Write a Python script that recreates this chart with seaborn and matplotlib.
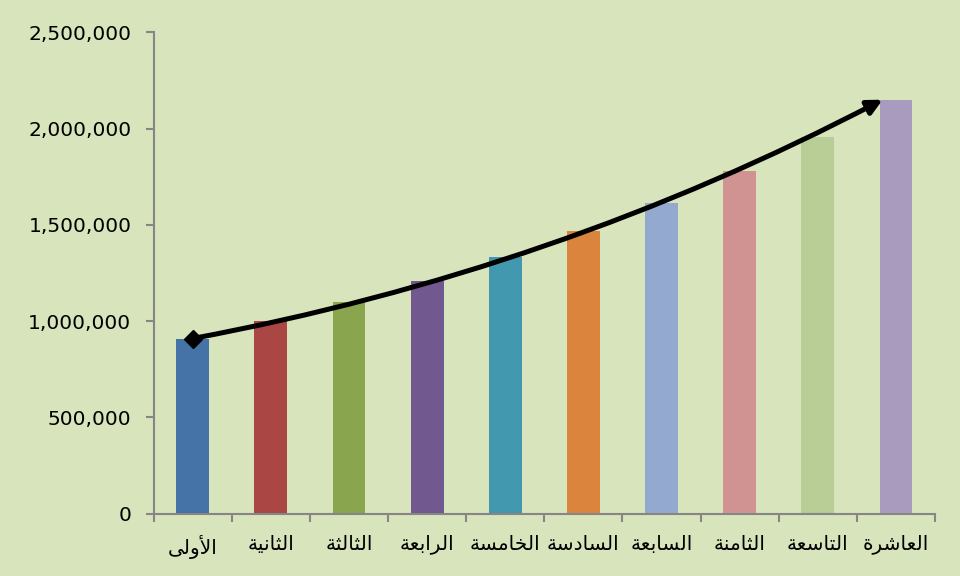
import matplotlib
matplotlib.use("Agg")
import matplotlib.pyplot as plt
import matplotlib.ticker as mticker
import seaborn as sns
import numpy as np

# ---- data ----
categories = ["الأولى", "الثانية", "الثالثة", "الرابعة", "الخامسة",
              "السادسة", "السابعة", "الثامنة", "التاسعة", "العاشرة"]
values = [910000, 1000000, 1100000, 1210000, 1335000,
          1470000, 1615000, 1778000, 1955000, 2150000]
bar_colors = ["#4572A7", "#AA4643", "#89A54E", "#71588F", "#4198AF",
              "#DB843D", "#93A9CF", "#D19392", "#B9CD96", "#A99BBD"]
y_ticks = [0, 500000, 1000000, 1500000, 2000000, 2500000]

# ---- minimal Arabic shaping (matplotlib has no complex text layout) ----
FORMS = {  # isolated, final, initial, medial
    "ا": ("\uFE8D", "\uFE8E", None, None),
    "أ": ("\uFE83", "\uFE84", None, None),
    "ب": ("\uFE8F", "\uFE90", "\uFE91", "\uFE92"),
    "ة": ("\uFE93", "\uFE94", None, None),
    "ت": ("\uFE95", "\uFE96", "\uFE97", "\uFE98"),
    "ث": ("\uFE99", "\uFE9A", "\uFE9B", "\uFE9C"),
    "خ": ("\uFEA5", "\uFEA6", "\uFEA7", "\uFEA8"),
    "د": ("\uFEA9", "\uFEAA", None, None),
    "ر": ("\uFEAD", "\uFEAE", None, None),
    "س": ("\uFEB1", "\uFEB2", "\uFEB3", "\uFEB4"),
    "ش": ("\uFEB5", "\uFEB6", "\uFEB7", "\uFEB8"),
    "ع": ("\uFEC9", "\uFECA", "\uFECB", "\uFECC"),
    "ل": ("\uFEDD", "\uFEDE", "\uFEDF", "\uFEE0"),
    "م": ("\uFEE1", "\uFEE2", "\uFEE3", "\uFEE4"),
    "ن": ("\uFEE5", "\uFEE6", "\uFEE7", "\uFEE8"),
    "و": ("\uFEED", "\uFEEE", None, None),
    "ى": ("\uFEEF", "\uFEF0", None, None),
    "ي": ("\uFEF1", "\uFEF2", "\uFEF3", "\uFEF4"),
}
LAM_ALEF = {"ا": ("\uFEFB", "\uFEFC"), "أ": ("\uFEF7", "\uFEF8")}


def dual(c):
    return c in FORMS and FORMS[c][2] is not None


def shape(word):
    units = []
    i = 0
    while i < len(word):
        c = word[i]
        if c == "ل" and i + 1 < len(word) and word[i + 1] in LAM_ALEF:
            units.append(("LA", word[i + 1]))
            i += 2
        else:
            units.append(("C", c))
            i += 1
    out = []
    for k, (kind, c) in enumerate(units):
        prev_joins = k > 0 and units[k - 1][0] == "C" and dual(units[k - 1][1])
        if kind == "LA":
            out.append(LAM_ALEF[c][1 if prev_joins else 0])
            continue
        nxt = k + 1 < len(units)
        next_joins = nxt and dual(c)
        iso, fin, ini, med = FORMS[c]
        if prev_joins and next_joins:
            out.append(med)
        elif prev_joins:
            out.append(fin)
        elif next_joins:
            out.append(ini)
        else:
            out.append(iso)
    return "".join(reversed(out))


bg = "#D8E4BC"
sns.set_theme(style="ticks", rc={
    "figure.facecolor": bg,
    "axes.facecolor": bg,
    "axes.edgecolor": "#868686",
    "xtick.color": "#868686",
    "ytick.color": "#868686",
})
plt.rcParams["font.family"] = ["DejaVu Sans"]

fig = plt.figure(figsize=(9.6, 5.76), dpi=100)
ax = fig.add_axes([0.160, 0.108, 0.814, 0.836])

sns.barplot(x=categories, y=values, hue=categories, palette=bar_colors,
            legend=False, width=0.42, ax=ax, saturation=1, order=categories,
            linewidth=0, edgecolor="none")

# trend arrow
n = len(values)
ax.annotate("", xy=(n - 1 - 0.17, values[-1]), xytext=(0, values[0]),
            arrowprops=dict(arrowstyle="-|>", lw=3.6, color="black",
                            mutation_scale=22, shrinkA=0, shrinkB=0,
                            connectionstyle="arc3,rad=0.075"),
            zorder=5)
ax.plot([0], [values[0]], marker="D", ms=9, color="black", zorder=6)

ax.set_ylim(0, 2500000)
ax.set_xlim(-0.5, n - 0.5)
ax.set_yticks(y_ticks)
ax.yaxis.set_major_formatter(mticker.FuncFormatter(lambda v, p: f"{int(v):,}"))
ax.set_xticks(range(n))
ax.set_xticklabels([shape(c) for c in categories])
ax.set_xticks(np.arange(-0.5, n, 1.0), minor=True)
ax.tick_params(axis="x", which="major", length=0, pad=15,
               labelsize=14.5, labelcolor="black")
ax.tick_params(axis="x", which="minor", length=6, width=1.5, direction="out")
ax.tick_params(axis="y", length=6, width=1.5, direction="out", pad=10,
               labelsize=14.5, labelcolor="black")
for s in ["left", "bottom"]:
    ax.spines[s].set_linewidth(1.5)
ax.spines["top"].set_visible(False)
ax.spines["right"].set_visible(False)
ax.set_xlabel("")
ax.set_ylabel("")

fig.savefig("out.png", dpi=100, facecolor=bg)
